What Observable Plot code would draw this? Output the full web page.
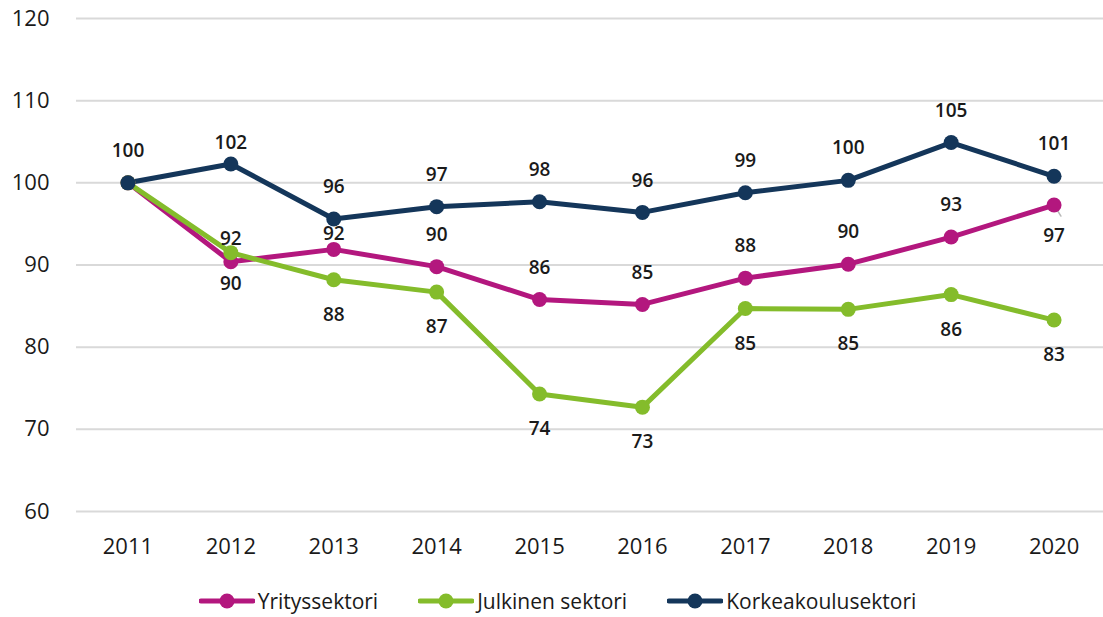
<!DOCTYPE html>
<html>
<head>
<meta charset="utf-8">
<script src="https://cdn.jsdelivr.net/npm/d3@7"></script>
<script src="https://cdn.jsdelivr.net/npm/@observablehq/plot@0.6"></script>
<style>
  body { margin: 0; background: #fff; font-family: "Open Sans", "Noto Sans", sans-serif; }
  #chart svg { display: block; }
  .legend { display: flex; justify-content: center; align-items: center; gap: 40px; margin-top: 26px; margin-left: 12px; font-size: 21px; color: #1a1a1a; }
  .legend .item { display: flex; align-items: center; gap: 3px; }
</style>
</head>
<body>
<div id="chart"></div>
<script>
const years = [2011, 2012, 2013, 2014, 2015, 2016, 2017, 2018, 2019, 2020];
const seriesNames = ["Yrityssektori", "Julkinen sektori", "Korkeakoulusektori"];
const colors = ["#b3177e", "#84bc2b", "#14365a"];
const yritys = [100, 90.4, 91.9, 89.8, 85.8, 85.2, 88.4, 90.1, 93.4, 97.3];
const julkinen = [100, 91.5, 88.2, 86.7, 74.3, 72.7, 84.7, 84.6, 86.4, 83.3];
const korkeakoulu = [100, 102.3, 95.6, 97.1, 97.7, 96.4, 98.8, 100.3, 104.9, 100.8];
const yTicks = [60, 70, 80, 90, 100, 110, 120];

const values = [yritys, julkinen, korkeakoulu];
const data = [];
seriesNames.forEach((s, si) => years.forEach((yr, i) => data.push({series: s, year: yr, value: values[si][i], si, i})));

// label placement (layout, not data): vertical offset in px
function labelDy(d) {
  if (d.si === 2) return d.i === 1 ? -21 : -32;
  if (d.si === 0) {
    if (d.i === 1) return 22;
    if (d.i === 2) return -15;
    if (d.i === 9) return 31;
    return -32;
  }
  if (d.i === 1) return -14;
  return 35;
}
const labels = data.filter(d => !(d.i === 0 && d.si !== 2)).map(d => ({...d, dy: labelDy(d)}));
const leader = data.filter(d => d.si === 0 && d.i === 9);

const plot = Plot.plot({
  width: 1103,
  height: 561,
  marginTop: 18,
  marginBottom: 50,
  marginLeft: 76,
  marginRight: 0,
  style: {fontFamily: "'Open Sans', 'Noto Sans', sans-serif", color: "#1a1a1a", background: "#fff"},
  x: {type: "point", domain: years, padding: 0.5, range: [76, 1105], round: false, label: null},
  y: {domain: [60, 120], label: null},
  color: {domain: seriesNames, range: colors},
  marks: [
    Plot.ruleY(yTicks, {stroke: "#d9d9d9", strokeWidth: 2}),
    Plot.axisY({ticks: yTicks, tickSize: 0, tickPadding: 27, fontSize: 22, label: null}),
    Plot.axisX({tickSize: 0, tickPadding: 27, fontSize: 22, label: null, tickFormat: d => String(d)}),
    Plot.vector(leader, {
      x: "year", y: "value", length: 13, rotate: 148, anchor: "start",
      stroke: "#b8b8b8", strokeWidth: 1.5,
      shape: {draw(context, l) { context.moveTo(0, 0); context.lineTo(0, -l); }}
    }),
    Plot.line(data, {x: "year", y: "value", z: "series", stroke: "series", strokeWidth: 5}),
    Plot.dot(data, {x: "year", y: "value", fill: "series", r: 7.5}),
    ...labels.map(d => Plot.text([d], {x: "year", y: "value", text: d => String(Math.round(d.value)), dy: d.dy, fontSize: 19, fontWeight: 600, fill: "#1a1a1a"}))
  ]
});
document.getElementById("chart").appendChild(plot);

const legend = document.createElement("div");
legend.className = "legend";
seriesNames.forEach((s, i) => {
  const item = document.createElement("div");
  item.className = "item";
  item.innerHTML = `<svg width="56" height="18"><line x1="2" y1="9" x2="54" y2="9" stroke="${colors[i]}" stroke-width="5" stroke-linecap="round"/><circle cx="28" cy="9" r="7.5" fill="${colors[i]}"/></svg><span>${s}</span>`;
  legend.appendChild(item);
});
document.body.appendChild(legend);
</script>
</body>
</html>
